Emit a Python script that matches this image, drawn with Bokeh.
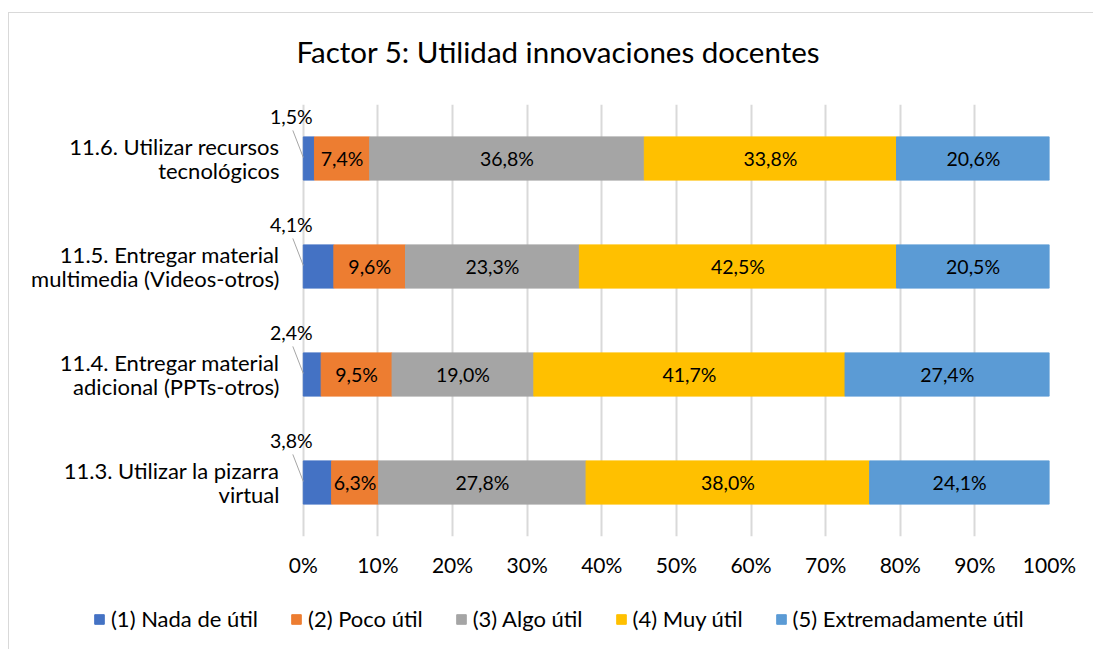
from bokeh.plotting import figure
from bokeh.layouts import column
from bokeh.models import (ColumnDataSource, FactorRange, Range1d, FixedTicker,
                          PrintfTickFormatter, Legend, LegendItem)
from bokeh.transform import dodge
from bokeh.embed import file_html
from bokeh.resources import INLINE
from bokeh.core.properties import value

# ---------------- data ----------------
title_text = "Factor 5: Utilidad innovaciones docentes"
categories = [
    "11.3. Utilizar la pizarra\nvirtual",
    "11.4. Entregar material\nadicional (PPTs-otros)",
    "11.5. Entregar material\nmultimedia (Videos-otros)",
    "11.6. Utilizar recursos\ntecnológicos",
]
series_names = ["(1) Nada de útil", "(2) Poco útil", "(3) Algo útil",
                "(4) Muy útil", "(5) Extremadamente útil"]
nada = [3.8, 2.4, 4.1, 1.5]
poco = [6.3, 9.5, 9.6, 7.4]
algo = [27.8, 19.0, 23.3, 36.8]
muy = [38.0, 41.7, 42.5, 33.8]
extrem = [24.1, 27.4, 20.5, 20.6]
x_ticks = [0, 10, 20, 30, 40, 50, 60, 70, 80, 90, 100]

colors = ["#4472C4", "#ED7D31", "#A5A5A5", "#FFC000", "#5B9BD5"]
keys = ["nada", "poco", "algo", "muy", "extrem"]
series = [nada, poco, algo, muy, extrem]

FONT = "Lato"

src = ColumnDataSource(dict(cat=categories, nada=nada, poco=poco, algo=algo,
                            muy=muy, extrem=extrem))

# ---------------- title figure ----------------
pt = figure(width=1084, height=91, output_backend="svg", toolbar_location=None,
            x_axis_location=None, y_axis_location=None, min_border=0,
            outline_line_color=None, frame_align=False)
pt.grid.visible = False
pt.title.text = title_text
pt.title.text_font = FONT
pt.title.text_font_size = "29.5px"
pt.title.text_font_style = "normal"
pt.title.text_color = "#000000"
pt.title.align = "left"
pt.title.offset = 287
pt.title.vertical_align = "top"
pt.title.standoff = 40

# ---------------- main chart ----------------
p = figure(width=1084, height=482, output_backend="svg", toolbar_location=None,
           y_range=FactorRange(factors=categories), x_range=Range1d(-6, 100),
           min_border_left=249, min_border_right=44, min_border_top=0,
           min_border_bottom=50, outline_line_color=None, title=None,
           frame_align=False)

p.hbar_stack(keys, y="cat", height=0.4, color=colors, source=src)

# labels inside the bars (series 2..5)
lx, ly, lt = [], [], []
for i, c in enumerate(categories):
    start = 0.0
    for s_idx, s in enumerate(series):
        v = s[i]
        if s_idx > 0:
            lx.append(start + v / 2)
            ly.append(c)
            lt.append(f"{v:.1f}%".replace(".", ","))
        start += v
lab_src = ColumnDataSource(dict(x=lx, y=ly, t=lt))
p.text(x="x", y="y", text="t", source=lab_src, text_font=value(FONT),
       text_font_size="19.5px", text_align="center", text_baseline="middle",
       text_color="#000000")

# small labels (series 1) outside with leader lines
small_src = ColumnDataSource(dict(
    x=[0.0] * len(categories), cat=categories,
    t=[f"{v:.1f}%".replace(".", ",") for v in nada],
    lx0=[-1.4] * len(categories)))
p.text(x="x", y="cat", text="t", source=small_src, x_offset=-12, y_offset=-42,
       text_font=value(FONT), text_font_size="19.5px", text_align="center",
       text_baseline="middle", text_color="#000000")
p.segment(x0="lx0", y0=dodge("cat", 0.26, range=p.y_range),
          x1="x", y1=dodge("cat", 0.01, range=p.y_range),
          source=small_src, line_color="#a6a6a6", line_width=1)

# axes
p.xaxis.ticker = FixedTicker(ticks=x_ticks)
p.xaxis.formatter = PrintfTickFormatter(format="%d%%")
p.xaxis.axis_line_color = None
p.xaxis.major_tick_line_color = None
p.xaxis.minor_tick_line_color = None
p.xaxis.major_label_text_font = FONT
p.xaxis.major_label_text_font_size = "21px"
p.xaxis.major_label_text_color = "#000000"
p.xaxis.major_label_standoff = 9

p.yaxis.axis_line_color = None
p.yaxis.major_tick_line_color = None
p.yaxis.minor_tick_line_color = None
p.yaxis.major_label_text_font = FONT
p.yaxis.major_label_text_font_size = "22px"
p.yaxis.major_label_text_line_height = 0.9
p.yaxis.major_label_text_color = "#000000"
p.yaxis.major_label_standoff = -27

p.xgrid.grid_line_color = "#d9d9d9"
p.xgrid.grid_line_width = 2
p.ygrid.grid_line_color = None

# ---------------- legend figure ----------------
p2 = figure(width=1084, height=63, output_backend="svg", toolbar_location=None,
            x_range=Range1d(0, 100), y_range=FactorRange(factors=categories),
            x_axis_location=None, y_axis_location=None, min_border=0,
            outline_line_color=None, frame_align=False)
p2.grid.visible = False
rs2 = p2.hbar_stack(keys, y="cat", height=0.4, color=colors, source=src)
for r in rs2:
    r.visible = False
lg = Legend(items=[LegendItem(label=n, renderers=[r]) for n, r in zip(series_names, rs2)])
lg.orientation = "horizontal"
lg.location = (84, 17)
lg.border_line_color = None
lg.background_fill_alpha = 0
lg.padding = 0
lg.margin = 0
lg.spacing = 32
lg.glyph_width = 12
lg.glyph_height = 12
lg.label_standoff = 6
lg.label_text_font = FONT
lg.label_text_font_size = "22px"
lg.label_text_color = "#000000"
lg.label_height = 20
p2.add_layout(lg, "center")

root = column(pt, p, p2, spacing=0,
              styles={"margin-left": "8px", "margin-top": "12px",
                      "border-top": "1px solid #d9d9d9",
                      "border-left": "1px solid #d9d9d9"})

open("out.html", "w").write(file_html(root, INLINE))
